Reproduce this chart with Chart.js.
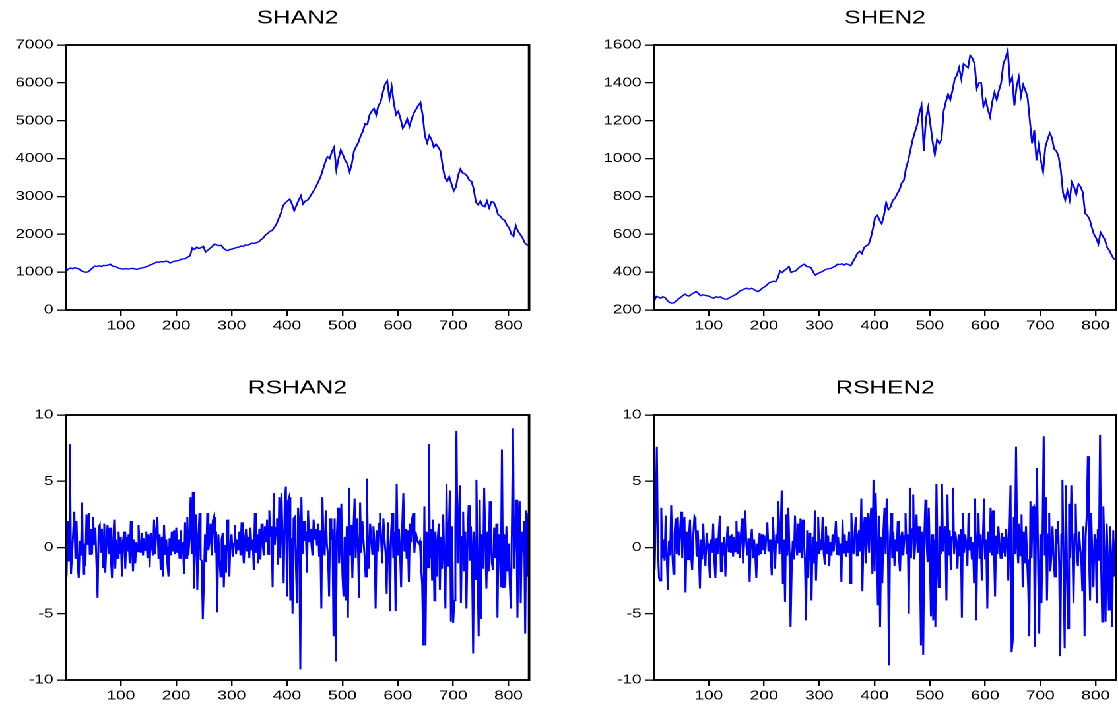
<!DOCTYPE html>
<html>
<head>
<meta charset="utf-8">
<script src="https://cdn.jsdelivr.net/npm/chart.js@4.4.0/dist/chart.umd.min.js"></script>
<style>
  html, body { margin: 0; padding: 0; background: #fff; overflow: hidden; }
  /* the original graph is stretched sideways, so the whole sheet is too */
  #wrap { position: absolute; left: 0; top: 0; width: 847px; height: 706px; transform: scaleX(1.32); transform-origin: 0 0; }
  .panel { position: absolute; }
</style>
</head>
<body>
<div id="wrap">
  <div class="panel" style="left:0px;top:0px;width:420px;height:340px"><canvas id="shan"></canvas></div>
  <div class="panel" style="left:440px;top:0px;width:407px;height:340px"><canvas id="shen"></canvas></div>
  <div class="panel" style="left:0px;top:370px;width:420px;height:336px"><canvas id="rshan"></canvas></div>
  <div class="panel" style="left:440px;top:370px;width:407px;height:336px"><canvas id="rshen"></canvas></div>
</div>
<script>
// observation axis
const xTicks = [100, 200, 300, 400, 500, 600, 700, 800];
const obsFirst = 1, obsLast = 837;

// price levels, every 4th observation starting at 1
const priceStart = 1, priceStep = 4;
const shan2 = [
  1020,1080,1110,1090,1120, 1100,1080,1030,1010,995, 1010,1060,1110,1160,1150, 1170,1150,1180,1170,1190, 1210,1160,1150,1130,1100,
  1090,1080,1095,1085,1090, 1100,1085,1075,1090,1110, 1120,1140,1160,1190,1210, 1240,1270,1260,1280,1270, 1290,1280,1240,1270,1290,
  1300,1310,1340,1350,1360, 1400,1430,1640,1600,1660, 1620,1650,1680,1530,1580, 1630,1680,1740,1720,1700, 1710,1640,1590,1570,1600,
  1610,1630,1650,1660,1690, 1680,1720,1710,1740,1770, 1760,1780,1800,1860,1900, 1980,2020,2080,2100,2180, 2270,2420,2560,2760,2830,
  2880,2930,2800,2620,2760, 2900,3020,2800,2880,2900, 2980,3080,3170,3280,3400, 3530,3720,3900,4050,4000, 4180,4300,3700,4000,4230,
  4100,3950,3860,3650,3860, 4200,4320,4430,4600,4720, 4920,4900,5150,5250,5320, 5150,5400,5490,5750,5960, 6050,5580,5900,5450,5160,
  5250,5050,4800,4900,5050, 4850,5050,5200,5300,5400, 5480,5140,4600,4420,4610, 4500,4300,4380,4300,4200, 3800,3500,3400,3520,3330,
  3150,3250,3560,3720,3620, 3600,3540,3430,3400,3200, 2850,2780,2880,2750,2730, 2880,2700,2860,2850,2720, 2520,2480,2400,2370,2240,
  2170,2000,1950,2230,2080, 2000,1910,1780,1720,1700
];
const shen2 = [
  245,272,268,262,270, 265,250,240,236,238, 248,258,266,276,284, 276,274,284,290,298, 288,276,280,278,275,
  272,266,262,270,266, 270,262,258,257,264, 270,276,282,292,302, 306,312,315,310,314, 310,302,297,305,316,
  322,332,344,348,352, 350,370,406,398,410, 418,430,398,404,406, 418,428,436,442,430, 428,424,400,384,392,
  398,402,410,416,418, 420,426,432,442,440, 444,438,444,440,434, 456,476,500,510,498, 530,540,545,580,630,
  690,700,675,655,700, 768,730,745,780,790, 815,835,870,885,950, 990,1045,1100,1140,1176, 1240,1280,1040,1210,1270,
  1180,1090,1020,1100,1080, 1100,1250,1300,1340,1310, 1360,1420,1440,1480,1420, 1500,1490,1480,1545,1530, 1500,1370,1400,1400,1275,
  1310,1260,1220,1300,1350, 1310,1360,1400,1500,1530, 1572,1400,1430,1280,1380, 1430,1330,1390,1360,1320, 1200,1080,1150,990,1070,
  990,930,1060,1100,1135, 1110,1050,1040,1010,940, 820,780,830,780,875, 850,810,866,850,820, 710,700,680,637,600,
  580,548,610,590,570, 530,515,490,470,465
];

// returns, every 2nd observation starting at 2
const retStart = 2, retStep = 2;
const rshan2 = [
  -2.2,2.0,-1.0,7.8,-2.0, -0.5,1.2,2.7,-0.8,2.0, -1.2,-2.3,0.5,-0.6,3.4, -2.0,0.3,-1.4,2.5,0.2, 2.6,-0.5,1.4,-0.5,2.3,
  0.2,1.5,-1.2,-3.8,1.5, 1.7,-0.4,1.4,-1.5,1.8, -1.9,0.4,1.7,-0.5,1.5, -0.8,-2.3,0.3,2.1,-1.6, 0.6,-0.8,1.2,-0.5,0.8,
  -2.2,0.5,1.2,-1.6,0.8, -0.3,1.0,-1.2,2.0,0.2, -1.8,0.6,-1.2,0.4,-0.3, 1.7,0.1,-0.4,1.1,-0.6, 0.7,-0.2,1.2,-0.8,1.0,
  -1.5,1.1,0.2,-0.6,2.1, -0.5,1.3,2.3,-0.8,1.0, -1.7,0.8,-2.2,1.7,-0.5, 0.6,-1.2,-2.2,0.7,-0.6, 1.2,-0.3,1.3,-0.5,1.5,
  -0.4,0.6,-0.8,1.3,-0.5, 0.4,-2.0,1.9,-0.8,2.3, -0.6,0.8,3.8,-0.5,4.2, -3.1,0.5,2.5,-3.2,0.8, 2.6,-0.9,-1.0,-5.4,-2.5,
  1.0,-1.1,2.6,-0.2,0.5, 1.8,-0.6,2.0,2.3,-0.4, 1.2,-4.9,1.0,-0.8,-2.2, 0.6,1.1,-3.0,0.2,-1.9, 2.1,0.4,-2.2,0.6,1.0,
  -0.7,0.3,1.7,-0.5,0.6, -0.2,1.2,-0.6,1.9,0.2, -1.2,0.6,1.4,-0.3,0.8, -0.8,1.5,-0.2,0.6,-1.7, 2.6,-0.4,1.0,-1.2,1.4,
  -0.9,1.8,0.3,-0.6,1.6, 0.4,2.1,-0.5,2.8,0.8, 1.6,-3.0,4.1,0.2,1.5, 2.2,-1.3,3.8,-0.8,4.1, 0.6,-2.7,3.5,4.6,-3.7,
  3.5,3.8,-4.0,0.7,-5.0, 2.2,2.3,-1.2,-4.2,3.0, 1.5,-9.2,3.8,-0.5,2.0, 0.5,1.2,-1.9,2.8,0.4, 1.4,0.3,-0.6,2.1,0.6,
  1.4,0.2,1.8,-0.7,1.3, -4.6,3.8,0.1,-0.6,2.8, 0.2,-0.5,-3.7,2.2,0.6, 1.4,-6.7,2.2,-8.6,1.0, 3.0,-1.2,0.5,3.3,-2.0,
  -3.7,0.8,-4.0,1.6,-5.3, 4.5,-0.6,1.7,-2.3,1.3, 3.7,-0.8,2.2,0.3,-3.8, 3.4,-0.4,2.0,0.6,-0.6, -2.2,5.2,0.4,-1.6,1.8,
  0.8,-0.5,1.6,0.4,-4.6, 1.3,-0.3,1.8,2.6,0.5, -1.2,2.2,0.6,-0.4,-3.5, 1.9,0.2,-4.8,1.2,2.6, -0.8,1.2,-4.8,4.8,-0.6,
  1.4,-0.2,-3.0,1.6,4.1, -0.3,1.4,-0.8,1.3,-2.6, 1.8,0.4,2.2,2.6,-0.4, 1.2,0.8,0.4,0.3,0.5, -1.5,-2.7,-7.4,3.1,-7.4,
  1.2,-1.5,7.8,-0.8,1.4, -2.5,2.1,-4.0,1.2,-2.2, 0.6,1.8,-3.2,0.8,-1.6, 2.5,-1.0,-4.6,4.8,-1.4, 0.8,4.3,-5.6,1.6,-5.7,
  -4.0,1.8,8.8,-1.2,2.0, 4.7,-4.2,0.8,2.7,-1.8, 1.2,-4.6,0.6,3.2,-1.0, 1.6,-0.7,-8.0,1.2,-2.4, 5.1,-1.4,-6.7,3.6,-5.4,
  1.0,-1.6,4.5,0.5,-3.1, 1.2,-1.8,3.5,0.4,-1.2, -1.7,1.5,-0.8,1.8,-5.3, 1.0,0.6,-3.0,7.4,-3.0, 1.0,-3.0,1.6,-1.8,0.3,
  -2.4,-4.6,1.4,9.0,-1.6, 1.2,3.6,-5.3,1.0,3.5, -4.2,1.2,-0.3,2.0,-6.5, 2.8,-2.2,2.6
];
const rshen2 = [
  -1.7,2.3,7.6,-0.2,-2.3, -2.5,3.0,-0.8,0.6,-1.0, 2.4,-0.8,-3.2,0.5,-0.6, 3.2,-0.4,-2.0,1.0,2.2, -0.5,2.3,-0.6,1.2,2.7,
  -0.8,1.6,2.3,-3.4,1.2, -0.9,0.8,2.1,-0.6,-1.7, 0.9,2.3,2.0,-0.7,1.3, -0.4,-3.1,0.6,-0.9,1.8, -0.5,-1.4,1.1,0.3,-0.8,
  -2.3,0.6,-0.4,1.8,-0.9, -2.3,0.7,-0.5,1.0,2.4, -1.8,0.4,-0.6,0.8,-2.2, 0.2,1.6,-0.3,0.9,-0.4, 1.0,-0.7,0.8,-0.3,2.0,
  -0.5,1.2,-0.8,0.9,2.2, -1.2,0.4,2.8,0.2,-0.6, 0.7,-2.6,0.5,1.4,-0.8, 0.6,-0.4,-2.3,0.3,-0.6, 1.1,-0.5,1.0,-0.2,0.9,
  -0.5,0.8,1.9,-0.3,0.6, -0.7,-2.1,2.3,0.4,-1.6, 1.0,0.3,3.5,-0.5,1.2, 4.3,-2.7,0.6,-4.1,2.5, -0.6,3.0,-0.4,-6.0,-1.7,
  0.5,-0.9,2.4,0.2,-0.6, 1.8,-0.4,2.2,-0.8,2.1, 0.6,-1.0,-5.5,1.3,-2.3, 1.1,0.2,-4.0,0.8,-1.2, 2.8,-2.5,0.4,2.3,-0.5,
  0.6,-0.2,2.3,-0.4,-1.3, 1.6,-0.5,0.9,-1.4,0.4, -0.6,1.0,-0.3,0.6,2.0, -0.5,0.8,-0.6,0.3,-2.6, 2.1,-0.4,1.0,-0.7,0.5,
  -0.4,1.2,-2.7,2.6,0.2, -0.5,1.1,2.3,-0.6,0.8, 1.3,-0.3,3.7,-3.3,0.9, 2.3,-1.2,0.5,2.6,-0.4, 2.1,3.0,-2.0,5.1,-1.8,
  4.1,0.6,-4.3,2.4,-6.0, 0.8,-2.7,1.2,3.0,-0.5, 3.7,1.0,-8.9,0.6,2.6, -0.8,1.2,-1.4,0.6,-0.3, 2.0,-0.6,-1.8,0.8,1.2,
  -0.6,0.9,2.6,-0.5,1.0, -5.0,4.5,-0.8,1.4,4.0, -0.9,0.6,2.5,-0.4,1.6, -0.7,-7.4,1.2,-8.1,0.8, 3.6,0.4,-1.1,3.0,-0.6,
  -5.2,1.0,-5.5,0.6,-6.0, 4.8,-0.8,-3.0,1.6,-0.5, 4.8,-0.3,1.2,1.6,-4.0, 4.0,-0.6,1.3,-1.7,0.8, 4.5,-0.5,1.2,0.4,-1.6,
  1.0,-0.6,1.4,-5.3,2.6, -0.4,1.0,0.2,-1.4,2.6, -0.2,0.8,-0.9,0.4,-2.7, 3.7,-5.5,0.6,2.6,-0.8, 1.0,-2.5,0.6,3.7,-0.9,
  0.6,-4.6,1.2,-0.4,3.0, -0.6,2.8,0.3,-3.7,0.9, -0.5,1.6,0.4,-0.8,1.1, -0.4,0.8,-0.7,1.4,0.2, -2.5,1.0,4.7,-7.9,-7.0,
  2.3,-0.5,7.6,0.4,-1.2, 1.8,-0.6,2.5,-3.0,1.2, -1.2,1.6,-0.9,-3.0,-6.7, 3.5,-0.8,3.0,3.1,-7.5, 1.4,6.0,-1.6,-6.5,1.0,
  -4.2,1.2,8.4,-0.6,3.8, -4.0,1.0,2.6,-1.8,-0.7, 1.6,-0.6,-2.2,1.4,0.3, 2.0,-1.2,-8.2,1.0,5.1, -1.6,-7.6,4.7,-1.0,-6.1,
  3.3,-0.8,4.7,0.6,-4.2, 1.0,3.3,-0.6,-1.4,1.2, 0.0,-0.8,-3.3,1.6,-6.7, 0.8,2.5,6.9,-0.6,-4.0, 2.6,-0.6,-3.0,1.0,0.6,
  -4.2,1.4,-1.0,8.5,-1.4, -5.6,3.1,-0.5,-5.6,1.8, -0.6,-4.7,1.6,-0.4,-6.0, 1.3,-2.2,0.5
];

const tickFont = { family: '"Liberation Sans", Arial, sans-serif', size: 13 };

// box round the plot area plus the series name above it
function framePlugin(title) {
  return {
    id: 'frame',
    afterDraw(chart) {
      const { ctx, chartArea: a } = chart;
      ctx.save();
      ctx.strokeStyle = '#000';
      ctx.lineWidth = 1.9;
      ctx.strokeRect(a.left, a.top, a.right - a.left, a.bottom - a.top);
      ctx.fillStyle = '#000';
      ctx.font = '18.5px "Liberation Sans", Arial, sans-serif';
      ctx.textAlign = 'center';
      ctx.textBaseline = 'alphabetic';
      ctx.fillText(title, (a.left + a.right) / 2, a.top - 21.7);
      ctx.restore();
    }
  };
}

function drawPanel(id, title, values, start, step, yMin, yMax, yStep, yWidth, padRight, xHeight, lineW) {
  const points = values.map((v, i) => ({ x: start + step * i, y: v }));
  new Chart(document.getElementById(id), {
    type: 'line',
    data: {
      datasets: [{
        data: points,
        borderColor: '#0000ff',
        borderWidth: lineW,
        pointRadius: 0,
        tension: 0,
        fill: false
      }]
    },
    options: {
      responsive: true,
      maintainAspectRatio: false,
      animation: false,
      devicePixelRatio: 2,
      layout: { padding: { top: 45, right: padRight, left: 0, bottom: 0 } },
      plugins: { legend: { display: false }, tooltip: { enabled: false } },
      scales: {
        x: {
          type: 'linear',
          min: obsFirst,
          max: obsLast,
          afterBuildTicks: ax => { ax.ticks = xTicks.map(v => ({ value: v })); },
          afterFit: ax => { ax.height = xHeight; },
          grid: { drawOnChartArea: false, tickLength: 6, color: '#000', lineWidth: 1.2 },
          border: { display: false },
          ticks: { font: tickFont, color: '#000', padding: 2, maxRotation: 0, autoSkip: false }
        },
        y: {
          min: yMin,
          max: yMax,
          afterFit: ax => { ax.width = yWidth; },
          grid: { drawOnChartArea: false, tickLength: 6.8, color: '#000', lineWidth: 1.3 },
          border: { display: false },
          ticks: { stepSize: yStep, font: tickFont, color: '#000', padding: 2.7, callback: v => String(v) }
        }
      }
    },
    plugins: [framePlugin(title)]
  });
}

drawPanel('shan', 'SHAN2', shan2, priceStart, priceStep, 0, 7000, 1000, 50, 19.2, 30, 1.35);
drawPanel('shen', 'SHEN2', shen2, priceStart, priceStep, 200, 1600, 200, 55.5, 1.5, 30, 1.35);
drawPanel('rshan', 'RSHAN2', rshan2, retStart, retStep, -10, 10, 5, 50, 19.2, 26, 1.5);
drawPanel('rshen', 'RSHEN2', rshen2, retStart, retStep, -10, 10, 5, 55.5, 1.5, 26, 1.5);
</script>
</body>
</html>
